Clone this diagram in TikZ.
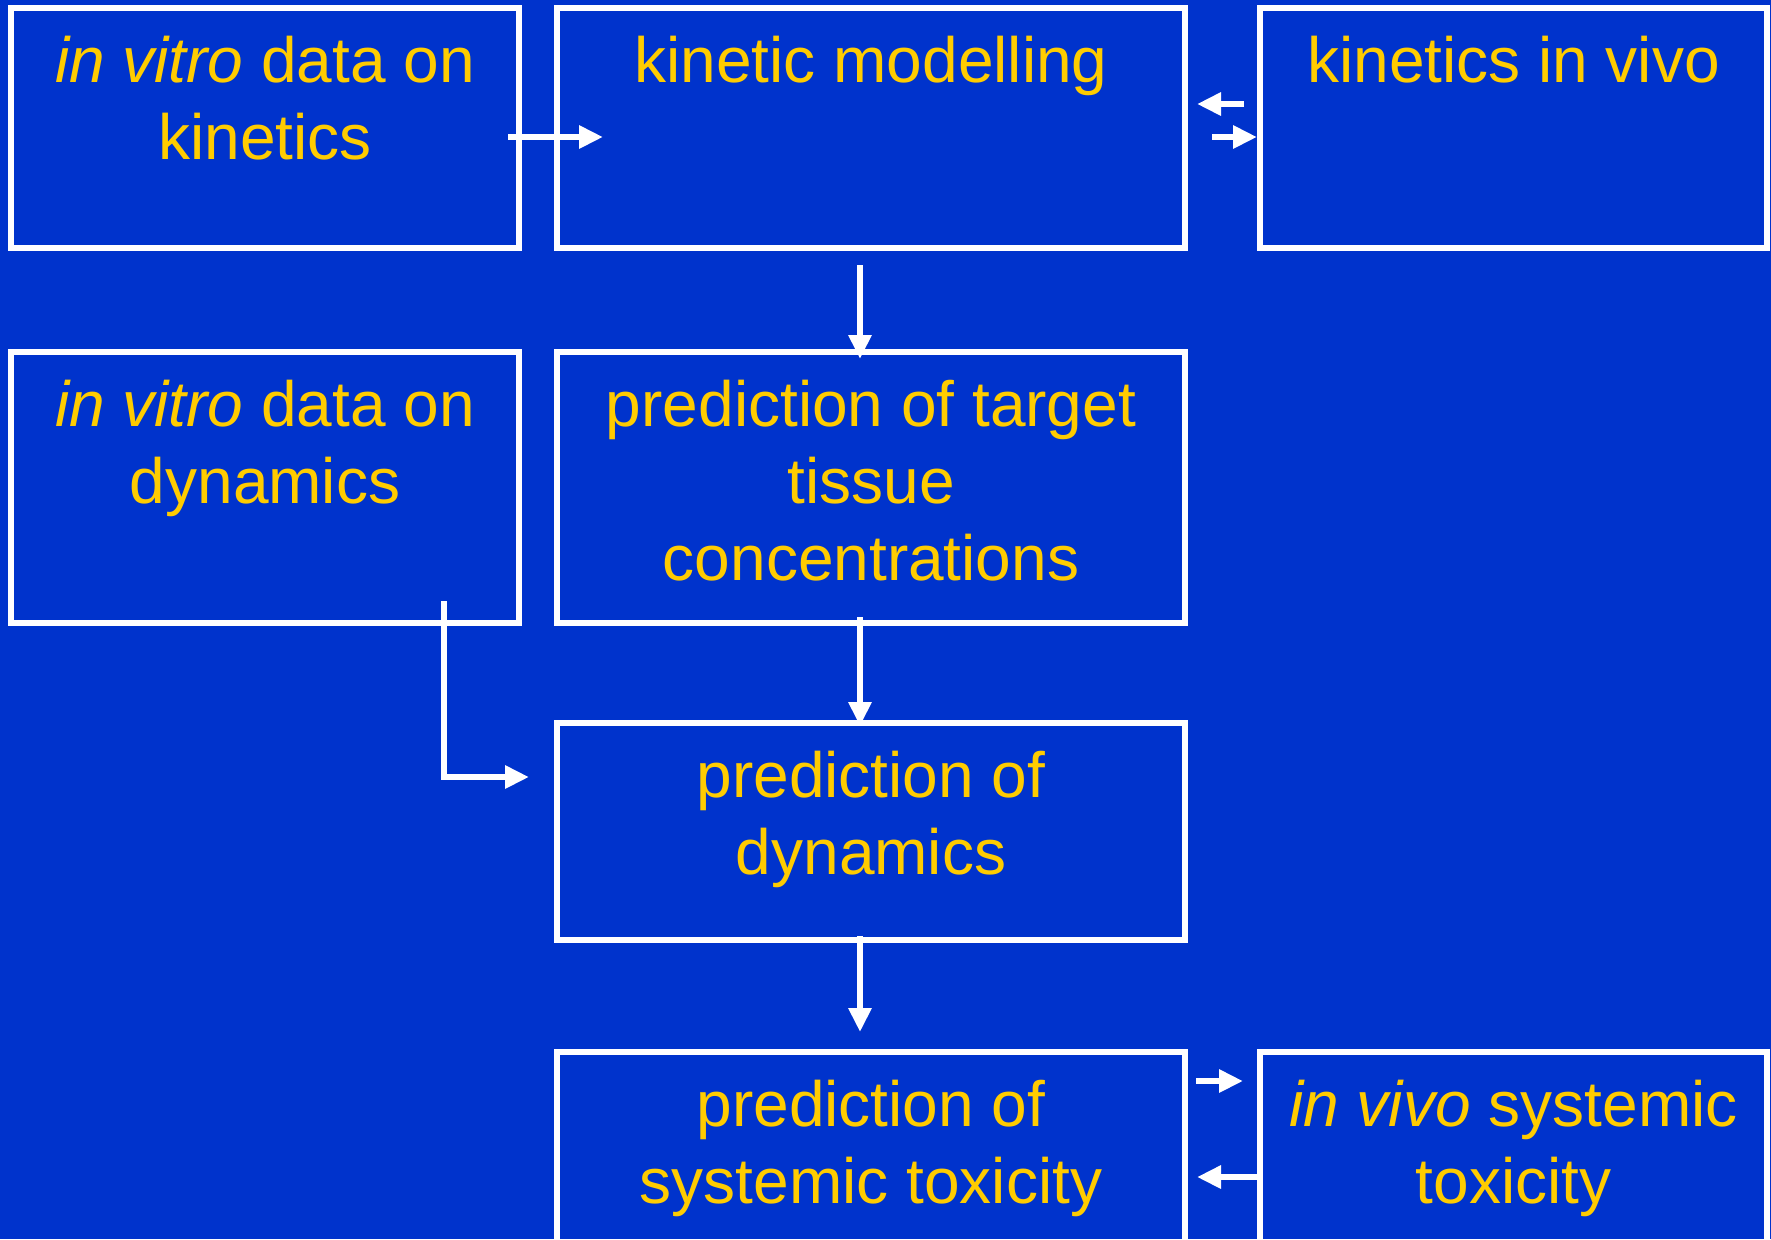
\documentclass[tikz,border=0pt]{standalone}
\usepackage{fontspec}
\setmainfont{Liberation Sans}
\usetikzlibrary{arrows.meta}
\definecolor{slideblue}{RGB}{0,51,204}
\definecolor{slideyellow}{RGB}{255,204,0}
\begin{document}
\begin{tikzpicture}[x=0.5pt,y=-0.5pt,
  box/.style={draw=white,line width=3pt,inner sep=0pt,outer sep=0pt,
    minimum width=#1},
  box/.default=314pt,
  txt/.style={text=slideyellow,align=center,inner sep=0pt,anchor=north,
    font=\fontsize{32pt}{38.4pt}\selectfont},
  arr/.style={draw=white,line width=3pt,
    -{Triangle[length=12pt,width=11pt]}}]
% background
\clip (0,0) rectangle (1771,1239);
\fill[slideblue] (0,0) rectangle (1771,1239);

% boxes
\node[box=254pt,minimum height=120pt]   (A) at (265,128)    {};
\node[box,minimum height=120pt]         (B) at (871,128)    {};
\node[box=253.5pt,minimum height=120pt] (C) at (1513.5,128) {};
\node[box=254pt,minimum height=135.5pt] (D) at (265,487.5)  {};
\node[box,minimum height=135.5pt]       (E) at (871,487.5)  {};
\node[box,minimum height=108.5pt]       (F) at (871,831.5)  {};
\node[box,minimum height=99pt]          (G) at (871,1151)   {};
\node[box=253.5pt,minimum height=99pt]  (H) at (1513.5,1151){};

% labels, hung from the top edge of each box
\node[txt] (tA) at ([yshift=-14pt]A.north) {\textit{in vitro} data on\\kinetics};
\node[txt] (tB) at ([yshift=-14pt]B.north) {kinetic modelling};
\node[txt] (tC) at ([yshift=-14pt]C.north) {kinetics in vivo};
\node[txt] (tD) at ([yshift=-14pt]D.north) {\textit{in vitro} data on\\dynamics};
\node[txt] (tE) at ([yshift=-14pt]E.north) {prediction of target\\tissue\\concentrations};
\node[txt] (tF) at ([yshift=-14pt]F.north) {prediction of\\dynamics};
\node[txt] (tG) at ([yshift=-14pt]G.north) {prediction of\\systemic toxicity};
\node[txt] (tH) at ([yshift=-14pt]H.north) {\textit{in vivo} systemic\\toxicity};

% connectors
\draw[arr] ([shift={(-11,9)}]A.east) -- ([shift={(46,9)}]B.west);
\draw[arr] ([shift={(-16,-24)}]C.west) -- ([shift={(12,-24)}]B.east);
\draw[arr] ([shift={(27,9)}]B.east) -- ([shift={(-3,9)}]C.west);
\draw[arr] ([shift={(-11,17)}]B.south) -- ([shift={(-11,7)}]E.north);
\draw[arr] ([shift={(-11,-6)}]E.south) -- ([shift={(-11,3)}]F.north);
\draw[arr] ([shift={(-11,-4)}]F.south) -- ([shift={(-11,-20)}]G.north);
\draw[arr] ([shift={(179,-22)}]D.south) |- ([shift={(-28,-54.5)}]F.west);
\draw[arr] ([shift={(11,-70)}]G.east) -- ([shift={(-17,-70)}]H.west);
\draw[arr] ([shift={(0,26)}]H.west) -- ([shift={(12,26)}]G.east);
\end{tikzpicture}
\end{document}
